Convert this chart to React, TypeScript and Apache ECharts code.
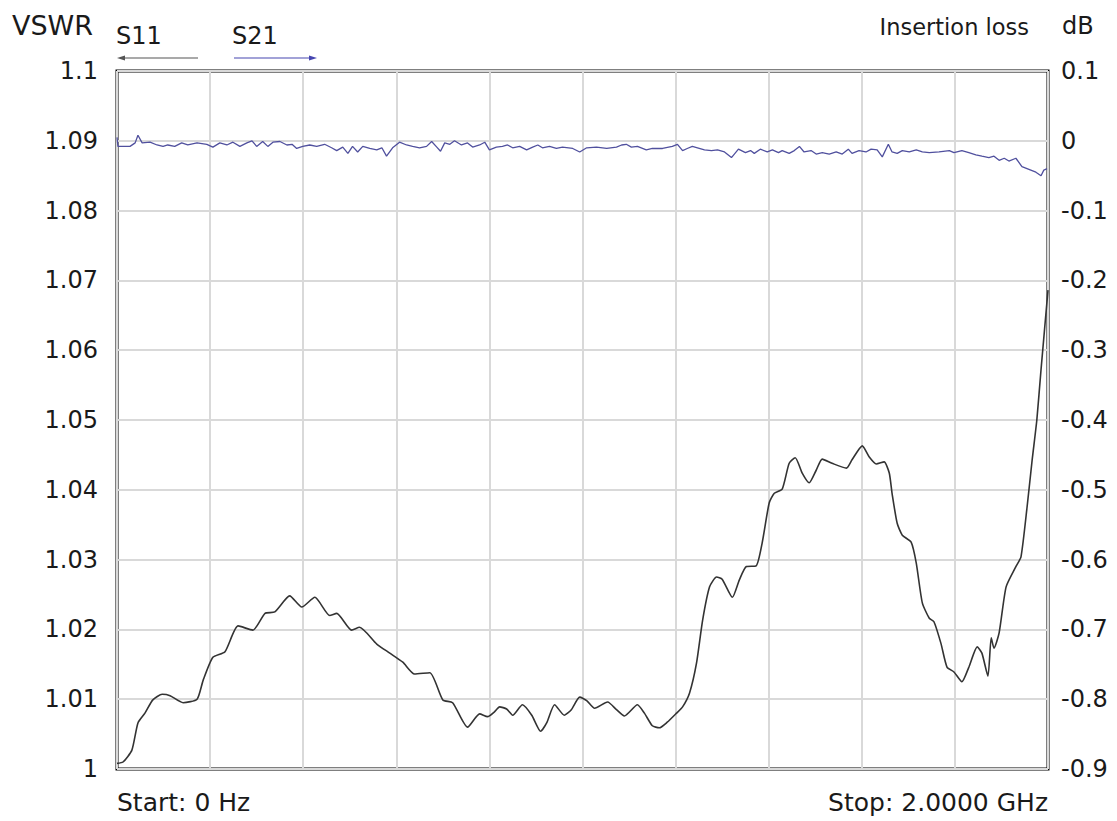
import React, { useEffect, useRef } from "react";
import * as echarts from "echarts";

// S11 (VSWR) trace: frequency in GHz and VSWR values
const s11Freq = [
  0.0, 0.013, 0.032, 0.045, 0.06, 0.077, 0.097, 0.114, 0.142, 0.172, 0.185, 0.206, 0.232, 0.26, 0.292,
  0.318, 0.339, 0.371, 0.397, 0.425, 0.457, 0.472, 0.504, 0.521, 0.558, 0.586, 0.614, 0.639, 0.672,
  0.7, 0.721, 0.753, 0.779, 0.796, 0.811, 0.822, 0.837, 0.85, 0.871, 0.891, 0.91, 0.923, 0.94, 0.961,
  0.976, 0.994, 1.009, 1.026, 1.054, 1.073, 1.09, 1.118, 1.133, 1.15, 1.165, 1.182, 1.202, 1.215,
  1.23, 1.245, 1.258, 1.273, 1.288, 1.3, 1.322, 1.337, 1.352, 1.373, 1.386, 1.401, 1.412, 1.429,
  1.444, 1.457, 1.472, 1.487, 1.502, 1.515, 1.536, 1.567, 1.579, 1.601, 1.616, 1.631, 1.648, 1.659,
  1.665, 1.676, 1.687, 1.706, 1.717, 1.73, 1.745, 1.755, 1.77, 1.783, 1.798, 1.815, 1.83, 1.848,
  1.858, 1.871, 1.878, 1.884, 1.895, 1.91, 1.931, 1.942, 1.955, 1.966, 1.976, 1.985, 2.0,
];
const s11Vswr = [
  1.0008, 1.001, 1.0027, 1.0066, 1.008, 1.0099, 1.0107, 1.0105, 1.0095, 1.01, 1.0127, 1.016, 1.0168,
  1.0205, 1.0199, 1.0223, 1.0225, 1.0248, 1.0232, 1.0246, 1.022, 1.0223, 1.0199, 1.0203, 1.0179,
  1.0166, 1.0153, 1.0136, 1.0138, 1.0099, 1.0095, 1.006, 1.0079, 1.0075, 1.0082, 1.0089, 1.0086,
  1.0077, 1.0092, 1.0077, 1.0054, 1.0066, 1.0092, 1.0077, 1.0085, 1.0103, 1.0098, 1.0087, 1.0096,
  1.0085, 1.0076, 1.0092, 1.008, 1.0062, 1.0059, 1.0067, 1.008, 1.0089, 1.0109, 1.0152, 1.0213,
  1.0261, 1.0275, 1.0272, 1.0246, 1.0271, 1.029, 1.0291, 1.0324, 1.0381, 1.0395, 1.0401, 1.0438,
  1.0446, 1.0424, 1.041, 1.0428, 1.0444, 1.0438, 1.0431, 1.0443, 1.0463, 1.0447, 1.0437, 1.044,
  1.0424, 1.0395, 1.0352, 1.0335, 1.0325, 1.0295, 1.0238, 1.0216, 1.0211, 1.018, 1.0146, 1.0139,
  1.0125, 1.0146, 1.0175, 1.0166, 1.0133, 1.0188, 1.0173, 1.0195, 1.0261, 1.029, 1.0304, 1.0375,
  1.0443, 1.05, 1.0572, 1.0686,
];

// S21 (insertion loss) trace: frequency in GHz and dB values
const s21Freq = [
  0.0, 0.002, 0.028, 0.039, 0.045, 0.054, 0.071, 0.086, 0.099, 0.109, 0.124, 0.139, 0.152, 0.172,
  0.193, 0.206, 0.221, 0.236, 0.249, 0.264, 0.279, 0.29, 0.3, 0.313, 0.324, 0.335, 0.35, 0.365, 0.376,
  0.386, 0.399, 0.414, 0.429, 0.446, 0.461, 0.472, 0.485, 0.496, 0.506, 0.517, 0.528, 0.543, 0.558,
  0.569, 0.579, 0.592, 0.607, 0.622, 0.635, 0.65, 0.665, 0.676, 0.687, 0.695, 0.704, 0.715, 0.725,
  0.74, 0.753, 0.764, 0.779, 0.79, 0.8, 0.815, 0.828, 0.839, 0.85, 0.865, 0.88, 0.893, 0.904, 0.914,
  0.929, 0.944, 0.957, 0.979, 0.994, 1.009, 1.03, 1.052, 1.073, 1.084, 1.094, 1.105, 1.118, 1.137,
  1.15, 1.172, 1.193, 1.204, 1.215, 1.225, 1.236, 1.247, 1.262, 1.277, 1.29, 1.305, 1.32, 1.335,
  1.35, 1.361, 1.369, 1.382, 1.397, 1.408, 1.421, 1.429, 1.444, 1.455, 1.466, 1.476, 1.491, 1.502,
  1.515, 1.53, 1.545, 1.558, 1.571, 1.579, 1.594, 1.609, 1.62, 1.633, 1.644, 1.657, 1.665, 1.676,
  1.687, 1.702, 1.717, 1.73, 1.745, 1.766, 1.788, 1.798, 1.815, 1.83, 1.845, 1.858, 1.873, 1.884,
  1.895, 1.906, 1.916, 1.931, 1.944, 1.959, 1.974, 1.985, 1.991, 1.998,
];
const s21Db = [
  0.005, -0.008, -0.008, -0.003, 0.008, -0.003, -0.002, -0.006, -0.008, -0.006, -0.008, -0.003,
  -0.006, -0.003, -0.005, -0.009, -0.003, -0.006, -0.002, -0.008, -0.003, 0.0, -0.008, -0.001,
  -0.008, -0.002, -0.001, -0.006, -0.005, -0.011, -0.008, -0.006, -0.008, -0.005, -0.01, -0.014,
  -0.009, -0.018, -0.008, -0.016, -0.008, -0.011, -0.013, -0.01, -0.022, -0.01, -0.002, -0.006,
  -0.008, -0.01, -0.008, -0.001, -0.009, -0.015, -0.003, -0.005, 0.0, -0.006, -0.003, -0.009,
  -0.006, -0.002, -0.013, -0.009, -0.008, -0.006, -0.01, -0.008, -0.013, -0.009, -0.006, -0.01,
  -0.008, -0.011, -0.009, -0.011, -0.016, -0.01, -0.009, -0.011, -0.009, -0.006, -0.005, -0.009,
  -0.008, -0.013, -0.011, -0.011, -0.008, -0.005, -0.014, -0.011, -0.008, -0.01, -0.013, -0.014,
  -0.013, -0.016, -0.024, -0.012, -0.017, -0.014, -0.018, -0.012, -0.016, -0.013, -0.017, -0.014,
  -0.018, -0.014, -0.008, -0.016, -0.014, -0.019, -0.017, -0.019, -0.016, -0.019, -0.012, -0.018,
  -0.014, -0.016, -0.012, -0.013, -0.023, -0.005, -0.016, -0.018, -0.014, -0.016, -0.013, -0.016,
  -0.017, -0.016, -0.014, -0.017, -0.014, -0.017, -0.02, -0.022, -0.024, -0.022, -0.028, -0.025,
  -0.029, -0.025, -0.037, -0.041, -0.045, -0.05, -0.042, -0.04,
];

const FONT = "'DejaVu Sans', 'Liberation Sans', Arial, sans-serif";
const TXT = "#1a1a1a";

export default function App() {
  const ref = useRef<HTMLDivElement>(null);

  useEffect(() => {
    if (!ref.current) return;
    const chart = echarts.init(ref.current, undefined, { renderer: "svg" });
    const s11 = s11Freq.map((f, i) => [f, s11Vswr[i]]);
    const s21 = s21Freq.map((f, i) => [f, s21Db[i]]);

    chart.setOption({
      animation: false,
      backgroundColor: "#ffffff",
      grid: {
        left: 117,
        right: 69,
        top: 71,
        bottom: 52,
        show: true,
        borderColor: "#000000",
        borderWidth: 3,
        backgroundColor: "transparent",
        containLabel: false,
      },
      xAxis: {
        type: "value",
        min: 0,
        max: 2,
        interval: 0.2,
        axisLabel: { show: false },
        axisTick: { show: false },
        axisLine: { show: false },
        splitLine: { show: true, lineStyle: { color: "#d9d9d9", width: 2 } },
      },
      yAxis: [
        {
          type: "value",
          min: 1,
          max: 1.1,
          interval: 0.01,
          position: "left",
          axisLine: { show: false },
          axisTick: { show: false },
          axisLabel: { fontSize: 24, fontFamily: FONT, color: TXT, margin: 19 },
          splitLine: { show: true, lineStyle: { color: "#d9d9d9", width: 2 } },
        },
        {
          type: "value",
          min: -0.9,
          max: 0.1,
          interval: 0.1,
          position: "right",
          axisLine: { show: false },
          axisTick: { show: false },
          axisLabel: { fontSize: 24, fontFamily: FONT, color: TXT, margin: 13 },
          splitLine: { show: false },
        },
      ],
      series: [
        {
          name: "S11",
          type: "line",
          data: s11,
          yAxisIndex: 0,
          showSymbol: false,
          smooth: 0.2,
          lineStyle: { color: "#333333", width: 1.6 },
          z: 3,
        },
        {
          name: "S21",
          type: "line",
          data: s21,
          yAxisIndex: 1,
          showSymbol: false,
          lineStyle: { color: "#50509e", width: 1.3 },
          z: 3,
        },
      ],
      graphic: [
        { type: "text", left: 12, top: 12, style: { text: "VSWR", font: `27px ${FONT}`, fill: TXT } },
        { type: "text", left: 116, top: 24, style: { text: "S11", font: `24px ${FONT}`, fill: TXT } },
        { type: "text", left: 232, top: 24, style: { text: "S21", font: `24px ${FONT}`, fill: TXT } },
        { type: "line", shape: { x1: 120, y1: 58, x2: 198, y2: 58 }, style: { stroke: "#555555", lineWidth: 1.2 } },
        { type: "polygon", shape: { points: [[117, 58], [125, 55.5], [125, 60.5]] }, style: { fill: "#555555" } },
        { type: "line", shape: { x1: 234, y1: 58, x2: 312, y2: 58 }, style: { stroke: "#4646b0", lineWidth: 1.2 } },
        { type: "polygon", shape: { points: [[317, 58], [309, 55.5], [309, 60.5]] }, style: { fill: "#4646b0" } },
        { type: "text", right: 88, top: 15, style: { text: "Insertion loss", font: `22.5px ${FONT}`, fill: TXT } },
        { type: "text", left: 1062, top: 14, style: { text: "dB", font: `24px ${FONT}`, fill: TXT } },
        { type: "text", left: 117, top: 790, style: { text: "Start: 0 Hz", font: `25px ${FONT}`, fill: TXT } },
        { type: "text", right: 69, top: 790, style: { text: "Stop: 2.0000 GHz", font: `25px ${FONT}`, fill: TXT } },
      ],
    });

    return () => chart.dispose();
  }, []);

  return (
    <div
      ref={ref}
      style={{ position: "fixed", left: 0, top: 0, width: 1117, height: 821, background: "#fff" }}
    />
  );
}
